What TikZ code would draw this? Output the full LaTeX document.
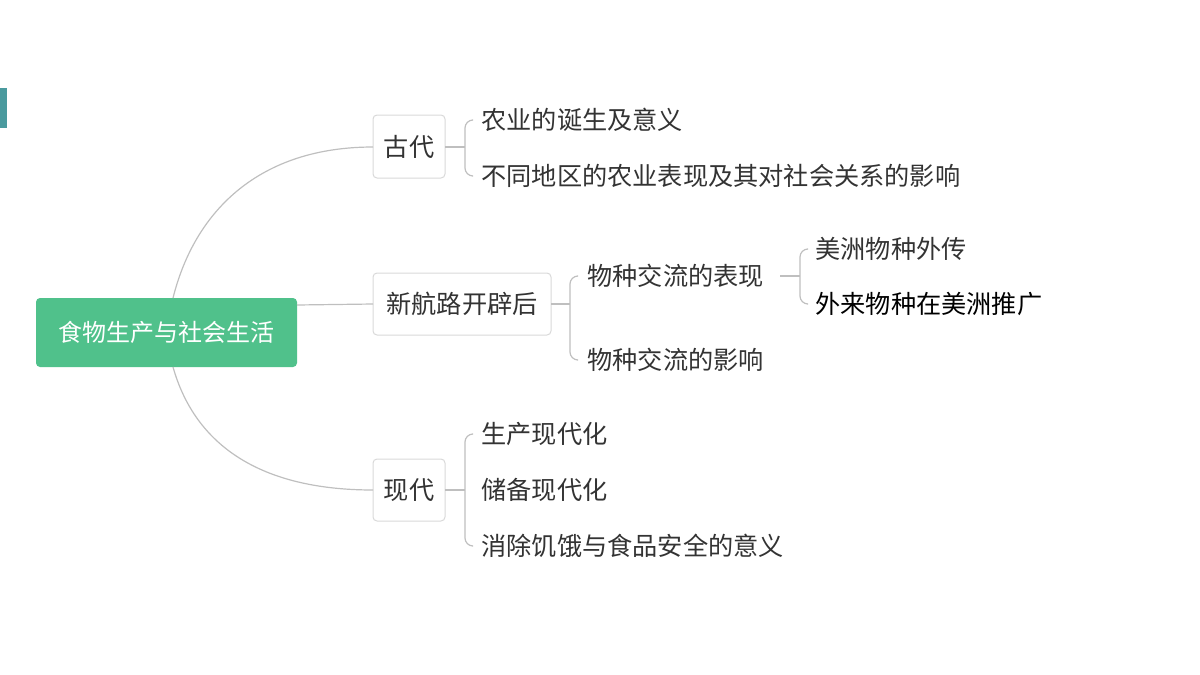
\documentclass[tikz,border=0pt]{standalone}
\usepackage{fontspec}
\setmainfont{Noto Sans CJK SC}
\begin{document}
\begin{tikzpicture}[x=0.5pt,y=-0.5pt,
  line/.style={draw=black!25,line width=0.6pt},
  box/.style={draw=black!15,rounded corners=2pt,fill=white,line width=0.5pt},
  lbl/.style={anchor=west,inner sep=0pt,text=black!80,font=\fontsize{12.6}{14}\selectfont},
  btxt/.style={inner sep=0pt,text=black!80,font=\fontsize{12.6}{14}\selectfont}]
\useasboundingbox (0,0) rectangle (1200,675);
\fill[fill={rgb,255:red,74;green,154;blue,158}] (0,88) rectangle (7,128);
% root
\node[fill={rgb,255:red,80;green,193;blue,139},rounded corners=2pt,minimum width=130.5pt,minimum height=34.5pt,inner sep=0pt,text=white,font=\fontsize{12}{14}\selectfont] (root) at (166.5,332.5) {食物生产与社会生活};
% level 1
\draw[box] (373,115) rectangle (445,178); \node[btxt] (gd) at (409,147) {古代};
\draw[box] (373,273) rectangle (551,335); \node[btxt] (xh) at (462,304) {新航路开辟后};
\draw[box] (373,459) rectangle (445,521); \node[btxt] (xd) at (409,490) {现代};
\coordinate (gdL) at (373,147); \coordinate (xhL) at (373,304); \coordinate (xdL) at (373,490);
\coordinate (rt) at (173,298); \coordinate (rb) at (173,367); \coordinate (rr) at (297,305);
\draw[line] (rt) .. controls (195,210) and (260,147) .. (gdL);
\draw[line] (rb) .. controls (195,445) and (260,490) .. (xdL);
\draw[line] (rr) -- (xhL);
% leaves
\node[lbl] (a1) at (481,120) {农业的诞生及意义};
\node[lbl] (a2) at (481,176) {不同地区的农业表现及其对社会关系的影响};
\node[lbl] (b1) at (587,276) {物种交流的表现};
\node[lbl] (b2) at (587,360) {物种交流的影响};
\node[lbl] (c1) at (815,249) {美洲物种外传};
\node[lbl,text=black] (c2) at (815,304) {外来物种在美洲推广};
\node[lbl] (d1) at (481,434) {生产现代化};
\node[lbl] (d2) at (481,490) {储备现代化};
\node[lbl] (d3) at (481,546) {消除饥饿与食品安全的意义};
% brackets
\draw[line] (445,147) -- (465,147);
\draw[line,rounded corners=4pt] (472,120) -- (465,120) -- (465,176) -- (472,176);
\draw[line] (551,304) -- (570,304);
\draw[line,rounded corners=4pt] (577,276) -- (570,276) -- (570,360) -- (577,360);
\draw[line] (780,276) -- (800,276);
\draw[line,rounded corners=4pt] (807,249) -- (800,249) -- (800,304) -- (807,304);
\draw[line] (445,490) -- (465,490);
\draw[line,rounded corners=4pt] (472,434) -- (465,434) -- (465,546) -- (472,546);
\end{tikzpicture}
\end{document}
